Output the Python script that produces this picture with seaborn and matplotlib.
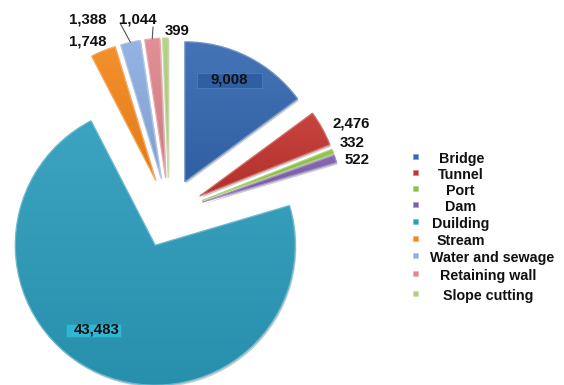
import numpy as np
import matplotlib
matplotlib.use("Agg")
import matplotlib.pyplot as plt
import matplotlib.colors as mcolors
from matplotlib.patches import Wedge, Rectangle
import seaborn as sns

# Facilities by type
categories = ["Bridge", "Tunnel", "Port", "Dam", "Duilding", "Stream",
              "Water and sewage", "Retaining wall", "Slope cutting"]
counts = [9008, 2476, 332, 522, 43483, 1748, 1388, 1044, 399]
value_labels = ["9,008", "2,476", "332", "522", "43,483", "1,748",
                "1,388", "1,044", "399"]
slice_colors = ["#3468b0", "#c2342f", "#8cc03f", "#7c5cae", "#2b9cbb",
                "#f3861a", "#8cadE0", "#de868d", "#b0cd80"]

sns.set_theme(style="white")
plt.rcParams["font.family"] = ["Liberation Sans", "DejaVu Sans"]

W, H = 564, 385
R = 140.0              # pie radius in pixels
CX, CY = 169.0, 213.0  # pie centre in pixels (from top-left)

fig = plt.figure(figsize=(W / 100, H / 100), dpi=100)
ax = fig.add_axes([0, 0, 1, 1])
palette = sns.color_palette(slice_colors)


def mix(c, other, t):
    c = np.array(mcolors.to_rgb(c))
    o = np.array(mcolors.to_rgb(other))
    return c * (1 - t) + o * t


wedges, _ = ax.pie(counts, colors=palette, startangle=90, counterclock=False,
                   explode=[0.25] * len(counts),
                   wedgeprops=dict(linewidth=0.9))

# soft drop shadow, gentle vertical gradient fill and light rim per slice
grad = np.linspace(0, 1, 256)[:, None, None]
for w, c in zip(wedges, palette):
    sh = Wedge((w.center[0] + 0.008, w.center[1] - 0.014), w.r,
               w.theta1, w.theta2, facecolor="#000000", alpha=0.2,
               edgecolor="none", zorder=0.5)
    ax.add_patch(sh)
    ext = w.get_path().get_extents()
    top = mix(c, "white", 0.08)
    bot = mix(c, "black", 0.08)
    img = top[None, None, :] * (1 - grad) + bot[None, None, :] * grad
    im = ax.imshow(img, extent=[ext.x0, ext.x1, ext.y0, ext.y1],
                   origin="upper", aspect="auto", interpolation="bilinear",
                   zorder=1)
    im.set_clip_path(w)
    w.set_facecolor("none")
    w.set_edgecolor(mix(c, "white", 0.3))
    w.set_zorder(2)

ax.set_aspect("auto")
ax.set_xlim(-CX / R, (W - CX) / R)
ax.set_ylim(-(H - CY) / R, CY / R)
ax.axis("off")

# overlay axes in pixel coordinates for labels and legend
ov = fig.add_axes([0, 0, 1, 1], facecolor="none")
ov.set_xlim(0, W)
ov.set_ylim(H, 0)
ov.axis("off")


def outer_mid(w):
    th = np.deg2rad(0.5 * (w.theta1 + w.theta2))
    x = w.center[0] + w.r * np.cos(th)
    y = w.center[1] + w.r * np.sin(th)
    return CX + x * R, CY - y * R


label_pos = [(229, 80), (351, 123), (352, 143), (357, 160), (97, 330),
             (88, 41), (88, 20), (138, 19), (177, 31)]
font = dict(fontsize=10.8, fontweight="bold", color="#111111",
            ha="center", va="center")

# boxed labels inside the two largest slices
ov.add_patch(Rectangle((197, 73), 65, 15, facecolor="#2f5fa2",
                       edgecolor="#4a7cc0", linewidth=0.6, zorder=3))
ov.add_patch(Rectangle((66, 324), 55, 12.5, facecolor="#31b5d1",
                       edgecolor="#26a0bb", linewidth=0.6, zorder=3))

for (x, y), txt in zip(label_pos, value_labels):
    ov.text(x, y, txt, zorder=4, **font)

# leader lines for the two crowded labels
for idx, end in [(6, (120, 23)), (7, (153, 27))]:
    sx, sy = outer_mid(wedges[idx])
    ov.plot([sx, end[0]], [sy, end[1]], color="#555555", lw=0.8, zorder=3)

# legend
legend_y = [159, 175, 191, 207, 224, 241, 258, 276, 296]
legend_x = [439, 438, 446, 445, 432, 437, 430, 440, 443]
for cat, c, tx, ty in zip(categories, palette, legend_x, legend_y):
    ov.add_patch(Rectangle((412.5, ty - 5.5), 5, 5, facecolor=c,
                           edgecolor=mix(c, "white", 0.4), linewidth=0.6))
    ov.text(tx, ty, cat, fontsize=10.3, fontweight="bold", color="#111111",
            ha="left", va="center")

fig.savefig("out.png", dpi=100)
